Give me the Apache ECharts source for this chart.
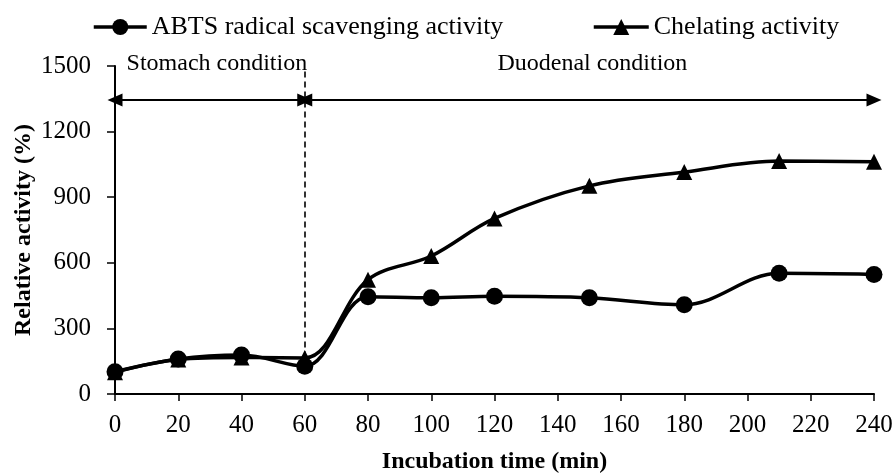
<!DOCTYPE html>
<html>
<head>
<meta charset="utf-8">
<script src="https://cdn.jsdelivr.net/npm/echarts@6/dist/echarts.min.js"></script>
<style>
  html, body { margin: 0; padding: 0; background: #fff; }
  #chart { width: 896px; height: 474px; }
</style>
</head>
<body>
<div id="chart"></div>
<script>
// Incubation time points (min)
const timePoints = [0, 20, 40, 60, 80, 100, 120, 150, 180, 210, 240];
// Relative activity (%) for each time point
const abtsActivity = [102, 160, 178, 127, 445, 440, 447, 440, 408, 552, 547];
const chelatingActivity = [100, 158, 167, 165, 523, 631, 803, 952, 1015, 1065, 1062];

const seriesNames = ['ABTS radical scavenging activity', 'Chelating activity'];
const phaseLabels = ['Stomach condition', 'Duodenal condition'];
const phaseBounds = [0, 60, 240];
const arrowLevel = 1345;

const FONT = "'Liberation Serif', 'Times New Roman', serif";
const INK = '#000';

const pairs = (vals) => timePoints.map((t, i) => [t, vals[i]]);

const chart = echarts.init(document.getElementById('chart'), null, { renderer: 'canvas' });

const dashed = { color: INK, width: 1.6, type: [6, 4] };
const arrowStyle = { color: INK, width: 2, type: 'solid' };

const legendBase = {
  itemHeight: 20,
  textStyle: { fontFamily: FONT, fontSize: 26, color: INK },
  lineStyle: { width: 3.5, color: INK }
};

chart.setOption({
  animation: false,
  backgroundColor: '#fff',
  grid: { left: 115, right: 22, top: 66, bottom: 80, containLabel: false, outerBoundsMode: 'none' },
  legend: [
    Object.assign({ data: [seriesNames[0]], left: 87, top: 9, itemWidth: 53 }, legendBase),
    Object.assign({ data: [seriesNames[1]], left: 587, top: 9, itemWidth: 55 }, legendBase)
  ],
  xAxis: {
    type: 'value',
    min: 0, max: 240, interval: 20,
    name: 'Incubation time (min)',
    nameLocation: 'middle',
    nameGap: 56,
    nameMoveOverlap: false,
    nameTextStyle: { fontFamily: FONT, fontSize: 24, fontWeight: 'bold', color: INK },
    axisLine: { show: true, lineStyle: { color: INK, width: 2 } },
    axisTick: { show: true, inside: false, length: 7, lineStyle: { color: INK, width: 1.5 } },
    axisLabel: { fontFamily: FONT, fontSize: 25, color: INK, margin: 19 },
    splitLine: { show: false }
  },
  yAxis: {
    type: 'value',
    min: 0, max: 1500, interval: 300,
    name: 'Relative activity (%)',
    nameLocation: 'middle',
    nameGap: 79,
    nameMoveOverlap: false,
    nameTextStyle: { fontFamily: FONT, fontSize: 24, fontWeight: 'bold', color: INK },
    axisLine: { show: true, lineStyle: { color: INK, width: 2 } },
    axisTick: { show: true, inside: false, length: 8, lineStyle: { color: INK, width: 1.5 } },
    axisLabel: { fontFamily: FONT, fontSize: 25, color: INK, margin: 24, formatter: (v) => String(v) },
    splitLine: { show: false }
  },
  series: [
    {
      name: seriesNames[0],
      type: 'line',
      data: pairs(abtsActivity),
      smooth: 0.35,
      symbol: 'circle',
      symbolSize: 17,
      clip: false,
      z: 3,
      lineStyle: { color: INK, width: 3.5 },
      itemStyle: { color: INK },
      markLine: {
        silent: true,
        animation: false,
        symbol: ['none', 'none'],
        label: { show: false },
        lineStyle: dashed,
        data: [
          [{ coord: [phaseBounds[1], 1475] }, { coord: [phaseBounds[1], 190] }],
          [{ coord: [phaseBounds[2], 1575] }, { coord: [phaseBounds[2], 87] }]
        ]
      }
    },
    {
      name: seriesNames[1],
      type: 'line',
      data: pairs(chelatingActivity),
      smooth: 0.35,
      symbol: 'triangle',
      symbolSize: 16,
      clip: false,
      z: 4,
      lineStyle: { color: INK, width: 3.5 },
      itemStyle: { color: INK },
      markLine: {
        silent: true,
        animation: false,
        symbol: ['triangle', 'triangle'],
        symbolSize: [13, 15],
        lineStyle: arrowStyle,
        label: {
          show: true,
          position: 'middle',
          distance: 24,
          fontFamily: FONT,
          fontSize: 24,
          color: INK,
          formatter: (p) => p.name
        },
        data: [
          [
            { name: phaseLabels[0], coord: [phaseBounds[0], arrowLevel], label: { offset: [7, 0] } },
            { coord: [phaseBounds[1], arrowLevel] }
          ],
          [
            { name: phaseLabels[1], coord: [phaseBounds[1], arrowLevel], label: { offset: [3, 0] } },
            { coord: [phaseBounds[2], arrowLevel] }
          ]
        ]
      }
    }
  ]
});
</script>
</body>
</html>
